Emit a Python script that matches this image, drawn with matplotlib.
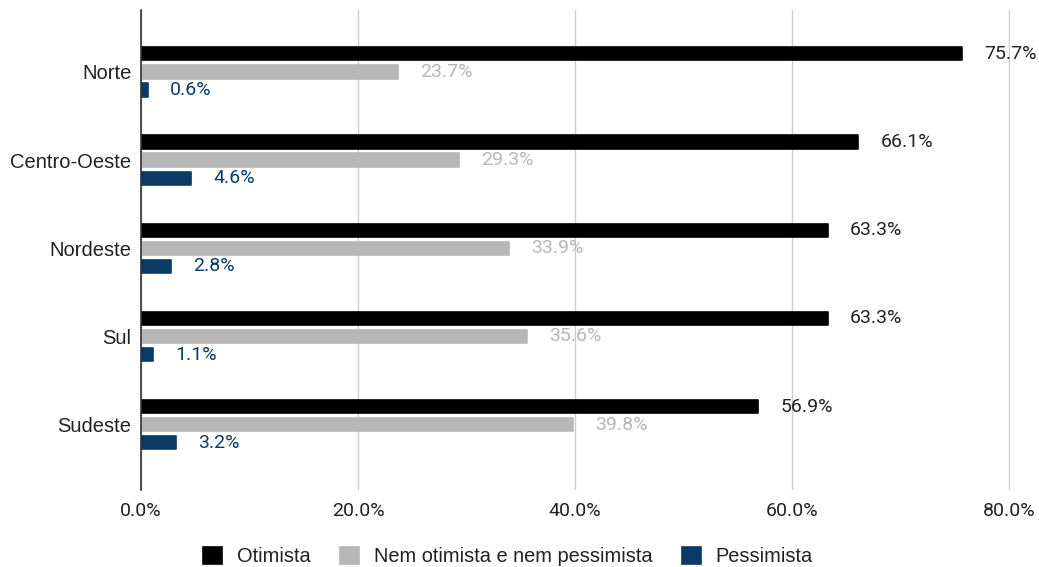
import matplotlib.pyplot as plt
import numpy as np

plt.rcParams["font.family"] = ["Roboto", "DejaVu Sans"]

regions = ["Norte", "Centro-Oeste", "Nordeste", "Sul", "Sudeste"]
otimista = [75.7, 66.1, 63.3, 63.3, 56.9]
neutro = [23.7, 29.3, 33.9, 35.6, 39.8]
pessimista = [0.6, 4.6, 2.8, 1.1, 3.2]
series_names = ["Otimista", "Nem otimista e nem pessimista", "Pessimista"]
colors = ["#000000", "#b7b7b7", "#0b3a66"]
x_ticks = [0, 20, 40, 60, 80]

fig = plt.figure(figsize=(10.39, 5.67), dpi=100)
ax = fig.add_axes([0.1357, 0.136, 0.8364, 0.846])

y = np.arange(len(regions))
offset = 0.205
height = 0.15

for i, (vals, color, name) in enumerate(zip([otimista, neutro, pessimista], colors, series_names)):
    pos = y + (i - 1) * offset
    ax.barh(pos, vals, height=height, color=color, label=name,
            edgecolor=color, linewidth=1.2, joinstyle="round", zorder=3)
    for v, p in zip(vals, pos):
        ax.annotate(f"{v:.1f}%", xy=(v, p), xytext=(16, 0), textcoords="offset points",
                    va="center", ha="left", fontsize=14, color=color if i else "#222222")

ax.set_xlim(0, 80.1)
ax.set_ylim(len(regions) - 1 + 0.74, -0.70)
ax.set_yticks(y)
ax.set_yticklabels(regions, fontsize=14.5, color="#222222", family="Liberation Sans")
ax.set_xticks(x_ticks)
ax.set_xticklabels([f"{t:.1f}%" for t in x_ticks], fontsize=14, color="#222222")
ax.tick_params(length=0, pad=7)
ax.tick_params(axis="x", pad=9)
ax.grid(axis="x", color="#cccccc", linewidth=1, zorder=0)
for side in ["top", "right", "bottom"]:
    ax.spines[side].set_visible(False)
ax.spines["left"].set_color("#333333")
ax.spines["left"].set_linewidth(1.2)
ax.spines["left"].set_zorder(4)

fig.legend(loc="lower center", bbox_to_anchor=(0.489, -0.03), ncol=3, frameon=False,
           prop={"family": "Liberation Sans", "size": 14.4},
           handlelength=0.95, handleheight=0.92, handletextpad=0.75,
           columnspacing=1.45, labelcolor="#222222")

fig.savefig("out.png", dpi=100)
